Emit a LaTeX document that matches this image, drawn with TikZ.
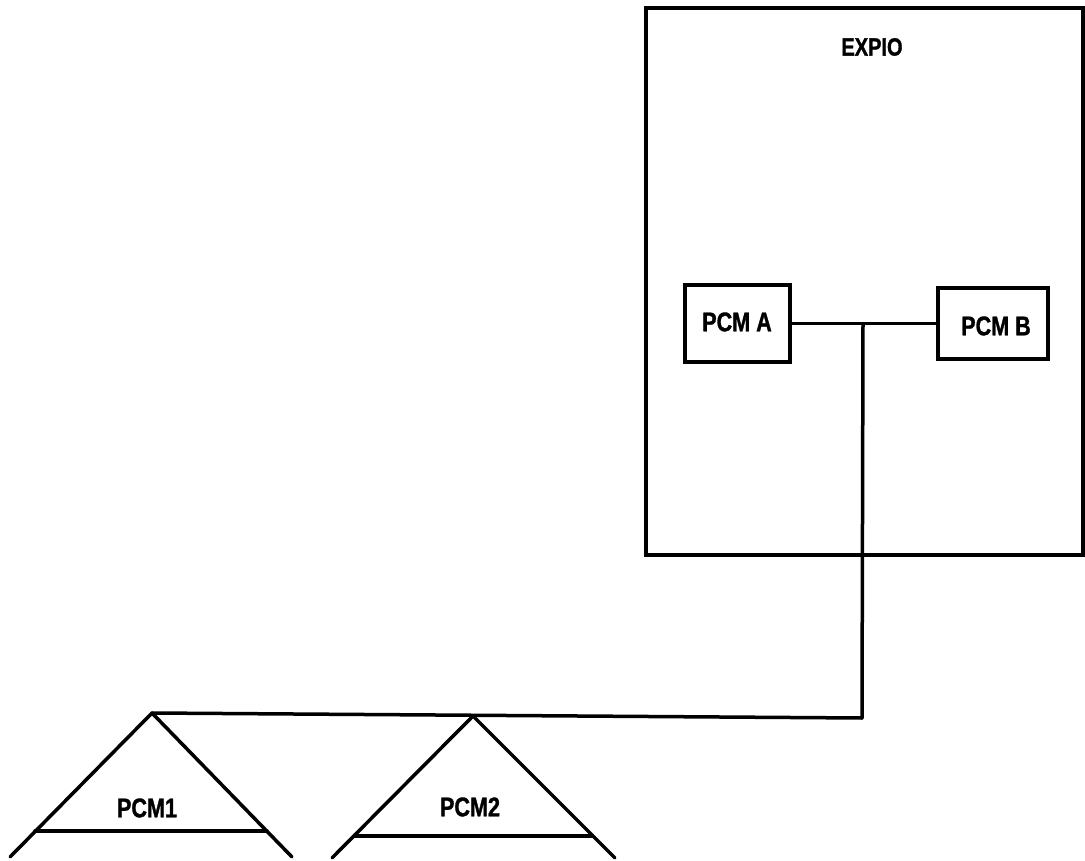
\documentclass[tikz,border=0pt]{standalone}
\usepackage{fontspec}
\newfontfamily\labfont{Liberation Sans Bold}[FakeStretch=0.8, FakeBold=1.2]
\begin{document}
\begin{tikzpicture}[x=1pt,y=-1pt,
  ln/.style={line width=3.5pt, line join=round, line cap=round},
  boxnode/.style={draw, line width=3.5pt, inner sep=0pt},
  lab/.style={font=\labfont\fontsize{27}{30}\selectfont, inner sep=0pt},
  biglab/.style={font=\labfont\fontsize{25}{30}\selectfont, inner sep=0pt}]
\useasboundingbox (0,0) rectangle (1085,861);
% EXPIO enclosure
\node[boxnode, minimum width=437pt, minimum height=547pt] (expio) at (864.5,281.5) {};
\node[biglab] (expiolab) at (872,47) {EXPIO};
% PCM A and PCM B
\node[boxnode, minimum width=105pt, minimum height=77pt] (pcmA) at (737.5,323.5) {};
\node[lab] (pcmAlab) at (737,322) {PCM A};
\node[boxnode, minimum width=110pt, minimum height=71pt] (pcmB) at (993,323.5) {};
\node[lab] (pcmBlab) at (996,326) {PCM B};
% connectors
\coordinate (j) at (863,323.5);
\coordinate (corner) at (862,718);
\draw[ln] (pcmA.east) -- (pcmB.west);
\coordinate (apex1) at (152,713);
\coordinate (apex2) at (473,716);
\draw[ln] (j) -- (corner) -- (apex1);
% PCM1 triangle
\coordinate (p1L) at (10,857);
\coordinate (p1R) at (292,857);
\coordinate (p1bL) at (35,831);
\coordinate (p1bR) at (267,831);
\draw[ln] (p1L) -- (apex1) -- (p1R);
\draw[ln] (p1bL) -- (p1bR);
\node[lab] (pcm1lab) at (147,808) {PCM1};
% PCM2 triangle
\coordinate (p2L) at (332,858);
\coordinate (p2R) at (615,858);
\coordinate (p2bL) at (355,836);
\coordinate (p2bR) at (592,836);
\draw[ln] (p2L) -- (apex2) -- (p2R);
\draw[ln] (p2bL) -- (p2bR);
\node[lab] (pcm2lab) at (470,807) {PCM2};
\end{tikzpicture}
\end{document}
